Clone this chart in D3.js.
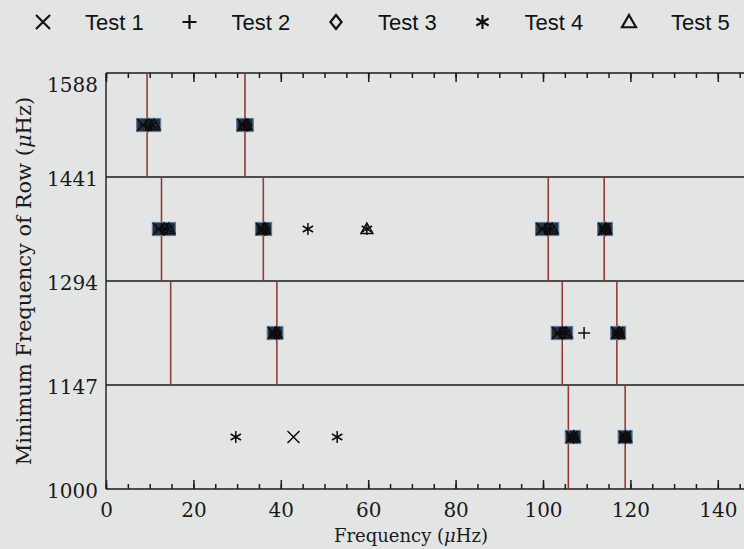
<!DOCTYPE html>
<html>
<head>
<meta charset="utf-8">
<script src="https://cdn.jsdelivr.net/npm/d3@7"></script>
<style>
  html, body { margin: 0; padding: 0; background: #e3e5e5; }
  svg { display: block; }
</style>
</head>
<body>
<svg id="chart" width="744" height="549"></svg>
<script>
// Echelle rows: minimum frequency of each row (µHz), row height 147 µHz
const rowStarts = [1000, 1147, 1294, 1441];
const rowHeight = 147;
const rowTicks = [1000, 1147, 1294, 1441, 1588];
const xTicks = [0, 20, 40, 60, 80, 100, 120, 140];

// Injected frequencies: [frequency mod row, row minimum]
const injected = [
  [9.4, 1441], [31.8, 1441],
  [12.7, 1294], [36.0, 1294], [101.2, 1294], [114.0, 1294],
  [14.8, 1147], [39.1, 1147], [104.4, 1147], [116.9, 1147],
  [105.8, 1000], [118.8, 1000]
];

// Recovered frequencies for each test: [frequency mod row, row minimum]
const test1 = [[8.5, 1441], [31.4, 1441], [12.1, 1294], [35.7, 1294], [99.8, 1294], [114.0, 1294],
               [38.4, 1147], [103.4, 1147], [117.0, 1147], [42.9, 1000], [106.6, 1000], [118.7, 1000]];
const test2 = [[9.1, 1441], [31.8, 1441], [12.7, 1294], [36.0, 1294], [100.4, 1294], [114.2, 1294],
               [38.7, 1147], [103.9, 1147], [109.4, 1147], [117.2, 1147], [106.8, 1000], [118.8, 1000]];
const test3 = [[9.7, 1441], [32.2, 1441], [13.3, 1294], [36.4, 1294], [101.0, 1294], [114.4, 1294],
               [39.0, 1147], [104.4, 1147], [117.4, 1147], [107.0, 1000], [118.9, 1000]];
const test4 = [[10.4, 1441], [31.6, 1441], [13.9, 1294], [35.9, 1294], [46.2, 1294], [59.7, 1294],
               [101.6, 1294], [114.1, 1294], [38.6, 1147], [104.9, 1147], [117.1, 1147],
               [29.7, 1000], [52.9, 1000], [106.7, 1000], [118.8, 1000]];
const test5 = [[11.0, 1441], [32.0, 1441], [14.4, 1294], [36.2, 1294], [59.7, 1294], [102.1, 1294],
               [114.3, 1294], [38.9, 1147], [105.3, 1147], [117.3, 1147], [107.1, 1000], [118.9, 1000]];

const testNames = ["Test 1", "Test 2", "Test 3", "Test 4", "Test 5"];
const testShapes = ["cross", "plus", "diamond", "star", "triangle"];
const tests = [test1, test2, test3, test4, test5];

const svg = d3.select("#chart");
const W = 744, H = 549;

const x = d3.scaleLinear().domain([0, 150]).range([106, 106 + 150 * 4.37]);
const y = d3.scaleLinear().domain([1000, 1588]).range([489, 73]);

const ink = "#1a1a1a";
const serif = "'DejaVu Serif', serif";
const sans = "'Liberation Sans', Arial, sans-serif";

// Glyph paths centred on (0,0)
function glyph(shape, r) {
  const p = d3.path();
  if (shape === "cross") {
    p.moveTo(-r, -r); p.lineTo(r, r); p.moveTo(-r, r); p.lineTo(r, -r);
  } else if (shape === "plus") {
    p.moveTo(-r, 0); p.lineTo(r, 0); p.moveTo(0, -r); p.lineTo(0, r);
  } else if (shape === "diamond") {
    p.moveTo(0, -r); p.lineTo(r * 0.8, 0); p.lineTo(0, r); p.lineTo(-r * 0.8, 0); p.closePath();
  } else if (shape === "star") {
    const d = r * 0.87;
    p.moveTo(0, -r); p.lineTo(0, r);
    p.moveTo(-d, -r / 2); p.lineTo(d, r / 2);
    p.moveTo(-d, r / 2); p.lineTo(d, -r / 2);
  } else if (shape === "triangle") {
    p.moveTo(0, -r); p.lineTo(r, r * 0.75); p.lineTo(-r, r * 0.75); p.closePath();
  }
  return p.toString();
}

const plot = svg.append("g");

// Horizontal row boundaries
plot.selectAll("line.row")
  .data(rowTicks)
  .join("line")
  .attr("class", "row")
  .attr("x1", x(0)).attr("x2", W + 20)
  .attr("y1", d => y(d)).attr("y2", d => y(d))
  .attr("stroke", ink).attr("stroke-width", 1.4);

// Left frame
plot.append("line")
  .attr("x1", x(0)).attr("x2", x(0))
  .attr("y1", y(1588)).attr("y2", y(1000))
  .attr("stroke", ink).attr("stroke-width", 1.4);

// Injected frequencies as vertical lines spanning their row
plot.selectAll("line.inj")
  .data(injected)
  .join("line")
  .attr("class", "inj")
  .attr("x1", d => x(d[0])).attr("x2", d => x(d[0]))
  .attr("y1", d => y(d[1] + rowHeight)).attr("y2", d => y(d[1]))
  .attr("stroke", "#963a36").attr("stroke-width", 1.6);

// Top ticks (inward)
const minorVals = d3.range(0, 151, 5);
const topMinor = d3.axisTop(x).tickValues(minorVals).tickSizeInner(-5).tickSizeOuter(0).tickFormat("");
const topMajor = d3.axisTop(x).tickValues(xTicks).tickSizeInner(-9).tickSizeOuter(0).tickFormat("");
[topMinor, topMajor].forEach(ax => {
  const g = plot.append("g").attr("transform", `translate(0,${y(1588)})`).call(ax);
  g.select(".domain").remove();
  g.selectAll("line").attr("stroke", ink).attr("stroke-width", 1.5);
});

// Bottom ticks (inward) with labels
const botMinor = d3.axisBottom(x).tickValues(minorVals).tickSizeInner(-5).tickSizeOuter(0).tickFormat("");
const botMajor = d3.axisBottom(x).tickValues(xTicks).tickSizeInner(-9).tickSizeOuter(0).tickPadding(14).tickFormat(d3.format("d"));
[botMinor, botMajor].forEach(ax => {
  const g = plot.append("g").attr("transform", `translate(0,${y(1000)})`).call(ax);
  g.select(".domain").remove();
  g.selectAll("line").attr("stroke", ink).attr("stroke-width", 1.5);
  g.selectAll("text").attr("font-family", serif).attr("font-size", 20).attr("fill", ink);
});

// Left axis labels
const left = plot.append("g").attr("transform", `translate(${x(0)},0)`)
  .call(d3.axisLeft(y).tickValues(rowTicks).tickSize(0).tickPadding(8).tickFormat(d3.format("d")));
left.select(".domain").remove();
left.selectAll("text")
  .attr("font-family", serif).attr("font-size", 20).attr("fill", ink)
  .attr("dy", d => d === 1588 ? "0.9em" : "0.4em");

// Shaded boxes where the tests agree (clusters of >= 3 detections in a row)
const allPts = [];
tests.forEach((arr, i) => arr.forEach(p => allPts.push({ f: p[0], row: p[1], t: i })));
const clusters = [];
d3.groups(allPts, d => d.row).forEach(([row, pts]) => {
  pts.sort((a, b) => a.f - b.f);
  let cur = [pts[0]];
  for (let i = 1; i < pts.length; i++) {
    if (pts[i].f - cur[cur.length - 1].f < 2.5) cur.push(pts[i]);
    else { clusters.push({ row, pts: cur }); cur = [pts[i]]; }
  }
  clusters.push({ row, pts: cur });
});
plot.selectAll("rect.agree")
  .data(clusters.filter(c => c.pts.length >= 3))
  .join("rect")
  .attr("class", "agree")
  .attr("x", c => x(d3.min(c.pts, p => p.f)) - 6.5)
  .attr("width", c => x(d3.max(c.pts, p => p.f)) - x(d3.min(c.pts, p => p.f)) + 13)
  .attr("y", c => y(c.row + rowHeight / 2) - 6.5)
  .attr("height", 13)
  .attr("fill", "#27303e")
  .attr("stroke", "#607a98")
  .attr("stroke-width", 1.2);

// Test detections
tests.forEach((arr, i) => {
  plot.append("g").selectAll("path")
    .data(arr)
    .join("path")
    .attr("transform", d => `translate(${x(d[0])},${y(d[1] + rowHeight / 2)})`)
    .attr("d", glyph(testShapes[i], 6))
    .attr("fill", "none")
    .attr("stroke", "#0d0d0d")
    .attr("stroke-width", 1.5);
});

// Legend
const legend = svg.append("g");
testNames.forEach((name, i) => {
  const cx = 43 + i * 146.5;
  legend.append("path")
    .attr("transform", `translate(${cx},22)`)
    .attr("d", glyph(testShapes[i], 7))
    .attr("fill", "none").attr("stroke", "#111").attr("stroke-width", 2.2);
  legend.append("text")
    .attr("x", cx + 42).attr("y", 30)
    .attr("font-family", sans).attr("font-size", 22)
    .attr("fill", "#111")
    .text(name);
});

// Axis titles
const yTitle = svg.append("text")
  .attr("transform", `translate(31,${(y(1000) + y(1588)) / 2}) rotate(-90)`)
  .attr("text-anchor", "middle")
  .attr("font-family", serif).attr("font-size", 21).attr("fill", ink);
yTitle.append("tspan").text("Minimum Frequency of Row (");
yTitle.append("tspan").attr("font-style", "italic").text("\u03bc");
yTitle.append("tspan").text("Hz)");

const xTitle = svg.append("text")
  .attr("x", 411).attr("y", 542)
  .attr("text-anchor", "middle")
  .attr("font-family", serif).attr("font-size", 18).attr("fill", ink);
xTitle.append("tspan").text("Frequency (");
xTitle.append("tspan").attr("font-style", "italic").text("\u03bc");
xTitle.append("tspan").text("Hz)");
</script>
</body>
</html>
